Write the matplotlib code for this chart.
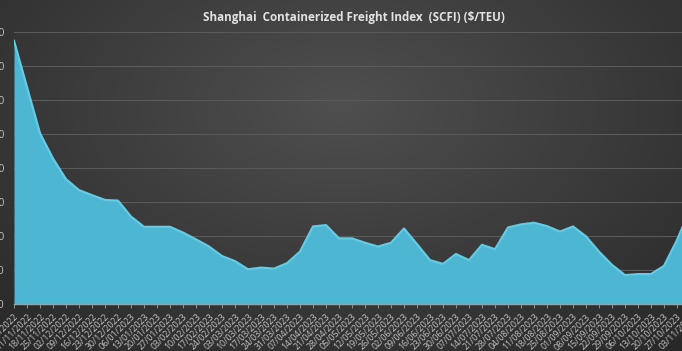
import numpy as np
import matplotlib
matplotlib.use("Agg")
import matplotlib.pyplot as plt
from matplotlib.ticker import FuncFormatter
from matplotlib.transforms import ScaledTranslation
import datetime as dt

# ---- data ----
start = dt.date(2022, 11, 4)
dates = [(start + dt.timedelta(weeks=i)).strftime("%d/%m/%Y") for i in range(53)]
scfi = [1574, 1438, 1302, 1228, 1167, 1135, 1120, 1106, 1104, 1057,
        1027, 1027, 1027, 1010, 990, 969, 941, 926, 902, 907,
        904, 920, 954, 1028, 1032, 993, 993, 980, 969, 980,
        1022, 976, 929, 918, 947, 929, 974, 961, 1025, 1034,
        1039, 1029, 1013, 1028, 999, 954, 915, 885, 888, 888,
        912, 988, 1078]
y_ticks = [800, 900, 1000, 1100, 1200, 1300, 1400, 1500, 1600]
title = "Shanghai  Containerized Freight Index  (SCFI) ($/TEU)"

W, H = 682, 351
fig = plt.figure(figsize=(W / 100, H / 100), dpi=100)

# radial dark background
bg = fig.add_axes([0, 0, 1, 1], zorder=-10)
yy, xx = np.mgrid[0:H, 0:W]
r = np.sqrt(((xx - W * 0.5) / (W * 0.75)) ** 2 + ((yy - H * 0.3) / (H * 0.9)) ** 2)
val = 0.31 - 0.15 * np.clip(r, 0, 1.2)
img = np.dstack([val, val, val])
bg.imshow(img, aspect="auto", extent=[0, 1, 0, 1])
bg.axis("off")

left_px, right_px = 14, 690
bottom_px, top_px = 304, 32
ax = fig.add_axes([left_px / W, 1 - bottom_px / H,
                   (right_px - left_px) / W, (bottom_px - top_px) / H])
ax.patch.set_alpha(0)

x = np.arange(len(scfi))
ax.fill_between(x, y_ticks[0], scfi, color="#4db6d3", zorder=3, linewidth=0)
ax.plot(x, scfi, color="#62cbe6", lw=1.6, zorder=4)

ax.set_xlim(0, len(scfi) - 1)
ax.set_ylim(y_ticks[0], y_ticks[-1])
ax.set_yticks(y_ticks)
ax.yaxis.set_major_formatter(FuncFormatter(lambda v, p: f"{int(v):,}"))
ax.grid(axis="y", color="#5a5a5a", lw=0.8, zorder=1)
ax.set_xticks(x)
ax.set_xticklabels(dates, rotation=45, ha="right", rotation_mode="anchor",
                   fontsize=6.3, color="#c4c4c4", family="Open Sans")
shift = ScaledTranslation(4 / 100, -2 / 100, fig.dpi_scale_trans)
for lab in ax.get_xticklabels():
    lab.set_transform(lab.get_transform() + shift)
for lab in ax.get_yticklabels():
    lab.set_fontsize(7.5)
    lab.set_color("#c4c4c4")
    lab.set_family("Open Sans")
ax.tick_params(axis="y", length=0, pad=7)
ax.tick_params(axis="x", length=3, color="#8a8a8a", pad=3, direction="out")
for s in ["top", "right", "left"]:
    ax.spines[s].set_visible(False)
ax.spines["bottom"].set_color("#8aa9b4")
ax.spines["bottom"].set_linewidth(1.0)
ax.spines["bottom"].set_zorder(5)

fig.text(354 / W, 1 - 17 / H, title, ha="center", va="center",
         fontsize=8.4, fontweight="bold", color="#e2e2e2", family="Open Sans")

fig.savefig("out.png", dpi=100, facecolor="#333333")
